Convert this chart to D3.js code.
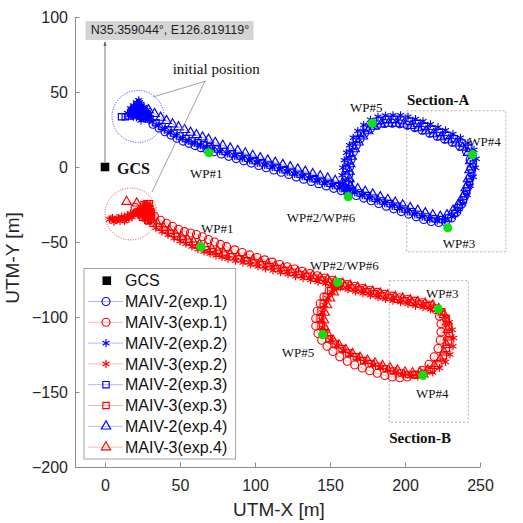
<!DOCTYPE html>
<meta charset="utf-8">
<style>
body { margin: 0; background: #fff; }
.axis path, .axis line { stroke: #8c8c8c; }
.axis text { fill: #262626; font: 16px "Liberation Sans", Arial, sans-serif; }
.serif { font-family: "Liberation Serif", "Times New Roman", serif; fill: #111; }
.sans { font-family: "Liberation Sans", Arial, sans-serif; fill: #111; }
</style>
<svg width="523" height="523"></svg>
<script src="https://cdn.jsdelivr.net/npm/d3@7"></script>
<script>
// ---- data (metres) ----
var xTicks = [0, 50, 100, 150, 200, 250];
var yTicks = [-200, -150, -100, -50, 0, 50, 100];
var gcs = [0, 0];
var gcsLabel = "N35.359044°, E126.819119°";

var maiv2exp1 = [[18,38],[21,40],[24,38],[27,35],[32,28.5],[36,26],[40,23.5],[44,21.3],[48,19.2],[52,17.3],[56,15.8],[60,14.3],[64,12.9],[68,11.6],[72.5,10.2],[77.5,8.7],[82.5,7.1],[87.5,5.6],[92.5,4.1],[97.5,2.6],[102.5,1],[107.5,-0.5],[112.5,-2],[117.5,-3.5],[122.5,-5],[127.5,-6.6],[132.5,-8.1],[137.5,-9.6],[142.5,-11.1],[147.5,-12.6],[152.5,-14.2],[157.5,-15.7],[162.5,-17.2],[167.5,-19],[172.5,-20.7],[177.5,-22.5],[182.5,-24.3],[187.5,-26.1],[192.5,-27.9],[197.5,-29.7],[202.5,-31.4],[207.5,-33.2],[212.5,-35],[217.5,-36.3],[222.5,-37],[227,-36.5],[231,-34],[234.5,-30],[237.5,-25],[240,-19],[242,-13],[243.5,-7],[244,-1],[243.5,5],[241,10.5],[236.5,14],[231.5,16.5],[226.5,18.5],[221.5,20.5],[216.5,22.5],[211.5,24.5],[206.5,26.3],[201.5,27.8],[196.5,28.8],[191.5,29.2],[186.5,29],[181.5,28],[177,25.8],[173,22.5],[170,18.8],[167.5,14.5],[165.5,10],[164,5],[163,0],[162.5,-5],[162.5,-10],[163,-15]];
var maiv3exp1 = [[20,-27],[24,-28],[28,-30],[33,-33],[37,-35.5],[41,-37.5],[45,-39.5],[49,-41.5],[53,-43.1],[57,-44],[61,-45],[65,-46.5],[69,-48.3],[73,-50],[77,-51.6],[81,-53.1],[86.5,-55.2],[91.5,-57],[96.5,-58.6],[101.5,-60.3],[106.5,-61.9],[111.5,-63.4],[116.5,-65],[121.5,-66.5],[126.5,-68],[131.5,-69.5],[136.5,-71],[141.5,-72.5],[146.5,-74],[151.5,-75.5],[156.5,-77],[161.5,-78.4],[166.5,-79.7],[171.5,-81],[176.5,-82.3],[181.5,-83.6],[186.5,-84.9],[191.5,-86.1],[196.5,-87.2],[201.5,-88.3],[206.5,-89.4],[211.5,-90.5],[216.5,-92],[220.5,-95],[223,-99.5],[224,-104.5],[224,-110],[223.5,-115.5],[222,-121],[219.5,-126.5],[216,-131.5],[211.5,-135.5],[206.5,-138.5],[201.5,-140],[196.5,-140.5],[191.5,-140],[186.5,-139],[181.5,-137.5],[176.5,-135.8],[171.5,-134],[166.5,-132],[161.5,-129.5],[156.5,-126.5],[152,-123],[148,-119.5],[144.5,-115.5],[142,-111],[140.5,-106],[140.5,-101],[141.5,-96],[143.5,-91],[146,-86.5],[149.5,-82.5],[153,-79.5]];
var maiv2exp2 = [[15,36],[17,39],[19,41],[21,43],[22.5,44.5],[24,42],[26,40],[28,38],[29,35],[27,32],[24,31],[21,33],[18,34],[20,37],[23,39],[25,36],[17,36.5],[19,38.5],[20,40],[22,41.5],[23,43],[21.5,42.5],[24,40.5],[25.5,39],[26.5,37.5],[27.5,36],[28.5,34],[30,33],[22,35],[24,34],[26,33],[20,35.5],[25,37.5],[23,37.5],[19,33.5],[21.5,38.5],[18,37.5],[27,34.5],[29.5,31.5],[31.5,30],[35.5,27.5],[39.5,25],[43.5,22.8],[47.5,20.8],[51.5,19],[55.5,17.5],[59.5,16],[63.5,14.6],[67.5,13.3],[71.5,12],[76.5,10.5],[81.5,9],[86.5,7.4],[91.5,5.9],[96.5,4.4],[101.5,2.9],[106.5,1.4],[111.5,-0.1],[116.5,-1.7],[121.5,-3.2],[126.5,-4.7],[131.5,-6.2],[136.5,-7.7],[141.5,-9.2],[146.5,-10.8],[151.5,-12.3],[156.5,-13.8],[161.5,-15.3],[166.5,-17],[171.5,-18.8],[176.5,-20.6],[181.5,-22.4],[186.5,-24.2],[191.5,-26],[196.5,-27.8],[201.5,-29.6],[206.5,-31.4],[211.5,-33.2],[216.5,-34.8],[221.5,-35.8],[226.5,-35.5],[231,-33],[235,-29.5],[238.5,-24.5],[241.5,-18.5],[243.5,-12.5],[245.5,-6.5],[247,-0.5],[247.5,5.5],[246,11.5],[242,16],[237,19.5],[232,22],[227,24.5],[222,26.5],[217,28.5],[212,30.5],[207,32],[202,33.5],[197,34.5],[192,34.5],[187,34.3],[182,33.5],[177,31.5],[172.5,28],[168.5,24],[165.5,19.5],[163,14.5],[161,9.5],[159.5,4.5],[158.5,-0.5],[158,-5.5],[158.5,-10.5],[159.5,-15.5]];
var maiv3exp2 = [[3,-35],[5,-34],[7,-35.5],[9,-34.5],[11,-33],[13,-33.5],[15,-32],[17,-31],[19,-32],[21,-30],[23,-29],[6,-36.5],[10,-36],[14,-35],[18,-33.5],[4,-34.5],[8,-34],[12,-34.5],[16,-33],[20,-31],[22,-32],[24,-30.5],[26,-32],[25,-28],[13,-36],[16,-34.5],[19,-30.5],[22,-29],[24,-33],[28,-34],[34,-40.5],[38,-43],[42,-45.2],[46,-47.4],[50,-49.4],[54,-51.2],[58,-53],[62,-54.8],[66,-56.3],[70,-57.7],[74,-58.9],[78,-60],[82,-61.1],[87,-62.4],[92,-63.7],[97,-65],[102,-66.3],[107,-67.6],[112,-68.9],[117,-70.2],[122,-71.5],[127,-72.8],[132,-74.1],[137,-75.3],[142,-76.5],[147,-77.7],[152,-78.9],[157,-80.2],[162,-81.6],[167,-82.9],[172,-84.2],[177,-85.5],[182,-86.8],[187,-88],[192,-89.1],[197,-90.2],[202,-91.3],[207,-92.4],[212,-93.5],[217,-94.8],[222,-96.5],[226.5,-99.5],[229.5,-103.5],[231.5,-108.5],[232.5,-114],[232,-119.5],[230,-125],[227,-130],[223,-134],[218.5,-137],[213.5,-139],[208.5,-139.7],[203.5,-139.3],[198.5,-138.3],[193.5,-137],[188.5,-135.5],[183.5,-133.8],[178.5,-132],[173.5,-130],[168.5,-127.7],[163.5,-125.2],[159,-122.3],[154.5,-119.2],[150.5,-115.5],[147,-111.5],[145,-107],[144.5,-102],[145,-97],[146.5,-92],[148.5,-87.5],[151.5,-83.5],[154.5,-80.5]];
var maiv2exp3 = [[11,33.5],[13.5,33.5],[16,34],[18.5,35.5],[21,37],[23.5,36],[25.5,34.5],[27.5,33.5],[20,38.5],[22,40],[24,38.5],[26,37],[28,35.5],[29,33],[19,36.5],[23,34],[25,32.5],[30,32],[34,29.5],[38,27],[42,24.8],[46,22.6],[50,20.6],[54,19],[58,17.5],[62,16.1],[66,14.8],[70,13.5],[75,12],[80,10.4],[85,8.9],[90,7.4],[95,5.9],[100,4.3],[105,2.8],[110,1.3],[115,-0.2],[120,-1.8],[125,-3.3],[130,-4.8],[135,-6.3],[140,-7.8],[145,-9.4],[150,-10.9],[155,-12.4],[160,-13.9],[165,-15.5],[170,-17.3],[175,-19],[180,-20.8],[185,-22.6],[190,-24.4],[195,-26.2],[200,-28],[205,-29.8],[210,-31.6],[215,-33.3],[220,-34.5],[225,-35],[229,-34],[233,-31],[236,-27],[239,-22],[241,-16],[243,-10],[244.5,-4],[245.5,2],[245,8],[242.5,12.5],[238,16],[233,18.8],[228,21],[223,23],[218,25],[213,27],[208,29],[203,30.5],[198,31.3],[193,31.8],[188,31.8],[183,31],[178,29],[174,26],[170.5,22.4],[167.5,18.5],[165,14],[163,9],[162,4],[161,-1],[160.5,-6],[160.5,-11],[161.5,-16]];
var maiv3exp3 = [[22,-30],[24,-31],[26,-29],[27,-26],[28,-24.5],[29,-27],[30,-30],[29.5,-33],[28.5,-35.5],[30.5,-35],[27,-32],[25,-33.5],[26,-25],[27.5,-27.5],[28.5,-29],[29.5,-31],[30.5,-32.5],[31,-34],[29,-36],[27,-34],[26,-31],[28,-33],[30,-28],[31,-30],[28.5,-26],[29.5,-24.5],[32,-37.5],[36,-40],[40,-42],[44,-44.2],[48,-46.3],[52,-48.3],[56,-50],[60,-52],[64,-53.7],[68,-55.2],[72,-56.4],[76,-57.5],[80,-58.6],[85,-59.9],[90,-61.2],[95,-62.5],[100,-63.8],[105,-65.1],[110,-66.4],[115,-67.7],[120,-69],[125,-70.3],[130,-71.6],[135,-72.9],[140,-74.1],[145,-75.4],[150,-76.6],[155,-77.8],[160,-79.3],[165,-80.6],[170,-81.9],[175,-83.2],[180,-84.5],[185,-85.8],[190,-87],[195,-88.1],[200,-89.2],[205,-90.3],[210,-91.4],[215,-92.5],[220,-94],[224.5,-96.5],[227.5,-101],[229,-106],[229.5,-111],[229,-116],[227.5,-121],[225.5,-126],[222,-131],[217.5,-135],[212.5,-137.5],[207.5,-138.5],[202.5,-138.3],[197.5,-137.3],[192.5,-136],[187.5,-134.5],[182.5,-132.8],[177.5,-131],[172.5,-129],[167.5,-126.5],[162.5,-124],[158,-121],[153.5,-118],[149.5,-114.5],[146,-110.5],[144,-106],[143.5,-101],[144,-96],[145.5,-91],[147.5,-86.5],[150.5,-82.5],[153.5,-79.5]];
var maiv2exp4 = [[24,37],[26.5,36.5],[29,38],[33,35.5],[37,33],[41,30.8],[45,28.6],[49,26.6],[53,24.8],[57,23],[61,21.4],[65,19.8],[69,18.3],[73.5,16.2],[78.5,14.3],[83.5,12.5],[88.5,10.8],[93.5,9.2],[98.5,7.6],[103.5,6],[108.5,4.5],[113.5,3],[118.5,1.5],[123.5,0],[128.5,-1.5],[133.5,-3],[138.5,-4.6],[143.5,-6.1],[148.5,-7.6],[153.5,-9.1],[158.5,-10.7],[163.5,-12.5],[168.5,-14.6],[173.5,-16.4],[178.5,-18.2],[183.5,-20],[188.5,-21.8],[193.5,-23.6],[198.5,-25.4],[203.5,-27.2],[208.5,-29],[213.5,-30.7],[218.5,-32],[223.5,-33],[228,-32],[232,-29],[235.5,-25],[238.5,-20],[240.5,-14],[242,-8],[243,-2],[243.5,4],[242,9.5],[238.5,13],[234,15.8],[229,18],[224,20],[219,22],[214,24],[209,26],[204,27.5],[199,28.5],[194,29],[189,29],[184,28.5],[179.5,27],[175.5,24],[172,20.5],[169,16.5],[166.5,12],[164.5,7],[163.5,2],[163,-3],[163,-8],[163.5,-13]];
var maiv3exp4 = [[14.4,-23.1],[21.1,-24.2],[26.7,-27.5],[30,-29.8],[35,-38],[39,-40.5],[43,-42.6],[47,-44.7],[51,-46.6],[55,-48.4],[59,-50.1],[63,-51.7],[67,-53.2],[71,-54.6],[75,-55.8],[79,-57],[83.5,-58.2],[88.5,-59.6],[93.5,-60.9],[98.5,-62.2],[103.5,-63.5],[108.5,-64.8],[113.5,-66.1],[118.5,-67.4],[123.5,-68.7],[128.5,-70],[133.5,-71.3],[138.5,-72.5],[143.5,-73.8],[148.5,-75],[153.5,-76.3],[158.5,-77.7],[163.5,-79],[168.5,-80.3],[173.5,-81.6],[178.5,-82.9],[183.5,-84.2],[188.5,-85.4],[193.5,-86.5],[198.5,-87.6],[203.5,-88.7],[208.5,-89.8],[213.5,-90.9],[218.5,-92.2],[222.5,-94.5],[226,-98.5],[228,-103.5],[228.5,-108.5],[228.5,-113.5],[227.5,-118.5],[226,-123.5],[223.5,-128],[219.5,-132.5],[215,-135.5],[210,-137],[205,-137.3],[200,-136.8],[195,-135.5],[190,-134],[185,-132.5],[180,-130.8],[175,-129],[170,-127],[165,-124.5],[160.5,-121.8],[156,-118.8],[152,-115.5],[148.5,-111.5],[146.5,-107],[146,-102],[146.5,-97],[148,-92],[150,-87.5],[152.5,-83.5],[155.5,-80]];

var seriesNames = ["MAIV-2(exp.1)", "MAIV-3(exp.1)", "MAIV-2(exp.2)", "MAIV-3(exp.2)",
                   "MAIV-2(exp.3)", "MAIV-3(exp.3)", "MAIV-2(exp.4)", "MAIV-3(exp.4)"];
var seriesData = [maiv2exp1, maiv3exp1, maiv2exp2, maiv3exp2, maiv2exp3, maiv3exp3, maiv2exp4, maiv3exp4];

// waypoints [x, y, label]
var wpA = [[69.3,9.5,"WP#1"],[162.2,-19.8,"WP#2/WP#6"],[228.5,-40.5,"WP#3"],[245.1,8.2,"WP#4"],[178.2,29.1,"WP#5"]];
var wpB = [[64,-53.1,"WP#1"],[155.1,-76.9,"WP#2/WP#6"],[222.2,-94.7,"WP#3"],[211.8,-138.9,"WP#4"],[145.1,-111.8,"WP#5"]];
var startA = [22, 33.7], startB = [17.3, -31.3];

// ---- layout ----
var svg = d3.select("svg");
var x = d3.scaleLinear().domain([-20, 250]).range([75, 480]);
var y = d3.scaleLinear().domain([-200, 100]).range([467, 17]);

var colors = ["#0000ff", "#ff0000"];
var shapes = ["circle", "circle", "star", "star", "square", "square", "tri", "tri"];

// label anchors (data units)
var wpLabelA = [[56.7,-7.3],[121.1,-36.7],[225.1,-54.2],[242.2,14],[163.3,36.9]];
var wpLabelB = [[64,-44],[136.7,-68.7],[214,-87.5],[207.3,-154.2],[117.8,-126.5]];

// axes
svg.append("g")
    .attr("class", "axis")
    .attr("transform", "translate(0," + y(-200) + ")")
    .call(d3.axisBottom(x).tickValues(xTicks).tickSizeInner(-4.5).tickSizeOuter(0).tickPadding(13));
svg.append("g")
    .attr("class", "axis")
    .attr("transform", "translate(" + x(-20) + ",0)")
    .call(d3.axisLeft(y).tickValues(yTicks).tickSizeInner(-4.5).tickSizeOuter(0).tickPadding(7));
svg.selectAll(".axis").attr("font-size", null).attr("font-family", null);

svg.append("text").attr("class", "sans")
    .attr("x", 279).attr("y", 516).attr("text-anchor", "middle")
    .style("font-size", "19px").style("fill", "#262626").text("UTM-X [m]");
svg.append("text").attr("class", "sans")
    .attr("transform", "translate(19,258) rotate(-90)").attr("text-anchor", "middle")
    .style("font-size", "19px").style("fill", "#262626").text("UTM-Y [m]");

function marker(sel, shape, color) {
  if (shape === "circle") {
    sel.append("circle").attr("r", 4);
  } else {
    var t = shape === "star" ? d3.symbolAsterisk : shape === "square" ? d3.symbolSquare : d3.symbolTriangle;
    var s = shape === "star" ? 46 : shape === "square" ? 40 : 38;
    sel.append("path").attr("d", d3.symbol(t, s)());
  }
  sel.attr("fill", "none").attr("stroke", color).attr("stroke-width", 1.15);
}

var line = d3.line().x(function(d) { return x(d[0]); }).y(function(d) { return y(d[1]); });

// trajectories
seriesData.forEach(function(data, i) {
  var c = colors[i % 2];
  var g = svg.append("g");
  g.append("path").attr("d", line(data)).attr("fill", "none")
      .attr("stroke", c).attr("stroke-opacity", 0.3).attr("stroke-width", 1);
  g.selectAll("g").data(data).enter().append("g")
      .attr("transform", function(d) { return "translate(" + x(d[0]) + "," + y(d[1]) + ")"; })
      .each(function() { marker(d3.select(this), shapes[i], c); });
});

// start circles
[[startA, colors[0]], [startB, colors[1]]].forEach(function(s) {
  svg.append("circle").attr("cx", x(s[0][0])).attr("cy", y(s[0][1]))
      .attr("r", x(17.3) - x(0)).attr("fill", "none").attr("stroke", s[1])
      .attr("stroke-width", 0.8).attr("stroke-dasharray", "1,1.5");
});

// initial position callout
svg.append("text").attr("class", "serif").attr("x", x(45.1)).attr("y", y(62))
    .style("font-size", "15px").text("initial position");
[[[67.3,57.3],[32,46.7]], [[66.7,57.3],[31.3,-16.7]]].forEach(function(l) {
  svg.append("line").attr("x1", x(l[0][0])).attr("y1", y(l[0][1]))
      .attr("x2", x(l[1][0])).attr("y2", y(l[1][1]))
      .attr("stroke", "#8a8a8a").attr("stroke-width", 0.8);
});

// waypoints
[[wpA, wpLabelA], [wpB, wpLabelB]].forEach(function(w) {
  svg.selectAll(null).data(w[0]).enter().append("circle")
      .attr("cx", function(d) { return x(d[0]); }).attr("cy", function(d) { return y(d[1]); })
      .attr("r", 4.6).attr("fill", "#10e010");
  svg.selectAll(null).data(w[0]).enter().append("text").attr("class", "serif")
      .attr("x", function(d, i) { return x(w[1][i][0]); })
      .attr("y", function(d, i) { return y(w[1][i][1]); })
      .style("font-size", "13px").text(function(d) { return d[2]; });
});

// sections
svg.append("rect").attr("x", x(201.1)).attr("y", y(37.5))
    .attr("width", x(267.3) - x(201.1)).attr("height", y(-56.5) - y(37.5))
    .attr("fill", "none").attr("stroke", "#9a9a9a").attr("stroke-width", 0.8).attr("stroke-dasharray", "2,2");
svg.append("rect").attr("x", x(189.5)).attr("y", y(-75.8))
    .attr("width", x(242.2) - x(189.5)).attr("height", y(-170.2) - y(-75.8))
    .attr("fill", "none").attr("stroke", "#9a9a9a").attr("stroke-width", 0.8).attr("stroke-dasharray", "2,2");
svg.append("text").attr("class", "serif").attr("x", x(201.3)).attr("y", y(41.3))
    .style("font-size", "15px").style("font-weight", "bold").text("Section-A");
svg.append("text").attr("class", "serif").attr("x", x(189.5)).attr("y", y(-184.2))
    .style("font-size", "15px").style("font-weight", "bold").text("Section-B");

// GCS
svg.append("defs").append("marker").attr("id", "arr")
    .attr("viewBox", "0 0 10 10").attr("refX", 10).attr("refY", 5)
    .attr("markerWidth", 5).attr("markerHeight", 5).attr("orient", "auto")
  .append("path").attr("d", "M0,1L10,5L0,9z").attr("fill", "#555");
svg.append("line").attr("x1", x(gcs[0])).attr("y1", y(gcs[1]) - 5)
    .attr("x2", x(gcs[0])).attr("y2", y(83.5))
    .attr("stroke", "#555").attr("stroke-width", 0.8).attr("marker-end", "url(#arr)");
svg.append("rect").attr("x", x(gcs[0]) - 4.3).attr("y", y(gcs[1]) - 4.3)
    .attr("width", 8.6).attr("height", 8.6).attr("fill", "#000");
svg.append("text").attr("class", "serif").attr("x", x(8)).attr("y", y(-4.7))
    .style("font-size", "16px").style("font-weight", "bold").text("GCS");
svg.append("rect").attr("x", x(-12.7)).attr("y", y(96.9))
    .attr("width", x(98.7) - x(-12.7)).attr("height", y(85.1) - y(96.9))
    .attr("fill", "#d4d4d4").attr("stroke", "#c6c6c6").attr("stroke-width", 0.6);
svg.append("text").attr("class", "sans").attr("x", x(-9.5)).attr("y", y(88.5))
    .style("font-size", "12.5px").style("fill", "#222").text(gcsLabel);

// legend
var lg = svg.append("g").attr("transform", "translate(84,268.5)");
lg.append("rect").attr("width", 151.7).attr("height", 190.5)
    .attr("fill", "#fff").attr("stroke", "#8c8c8c").attr("stroke-width", 0.8);
var rows = ["GCS"].concat(seriesNames);
rows.forEach(function(name, i) {
  var ry = 12.2 + i * 20.8;
  var r = lg.append("g").attr("transform", "translate(0," + ry + ")");
  if (i === 0) {
    r.append("rect").attr("x", 18.5).attr("y", -4.3).attr("width", 8.6).attr("height", 8.6).attr("fill", "#000");
  } else {
    var c = colors[(i - 1) % 2];
    r.append("line").attr("x1", 4).attr("x2", 39).attr("stroke", c)
        .attr("stroke-opacity", 0.3).attr("stroke-width", 1);
    var m = r.append("g").attr("transform", "translate(22,0)");
    marker(m, shapes[i - 1], c);
  }
  r.append("text").attr("class", "sans").attr("x", 41).attr("dy", "0.36em")
      .style("font-size", "16px").text(name);
});
</script>
